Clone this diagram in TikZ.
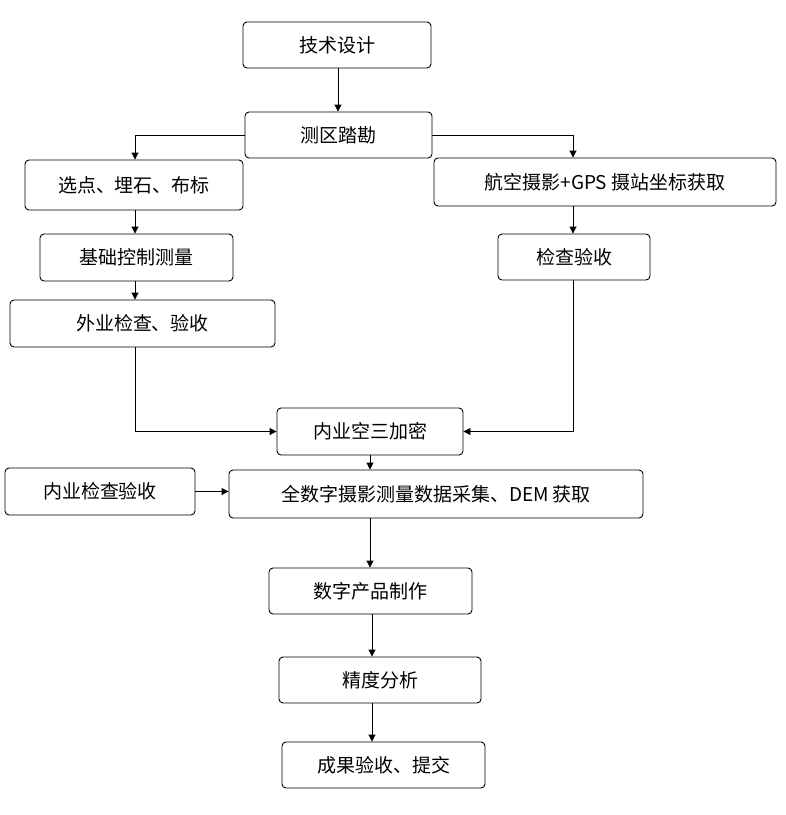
\documentclass[tikz,border=0pt]{standalone}
\usepackage{fontspec}
\setmainfont{Noto Sans CJK SC}
\usetikzlibrary{arrows.meta}
\begin{document}
\begin{tikzpicture}[x=1pt,y=-1pt,
  box/.style={draw,line width=0.9pt,rounded corners=4pt,font=\fontsize{19}{22}\selectfont,inner sep=0pt},
  arr/.style={line width=0.9pt,-{Triangle[length=7pt,width=7pt]}}]
\useasboundingbox (0,0) rectangle (786,815);
\newcommand{\bx}[6]{\node[box,minimum width=#4-#2,minimum height=#5-#3] (#1) at ({(#2+#4)/2},{(#3+#5)/2}) {#6};}
\bx{a}{243}{22}{431}{68}{技术设计}
\bx{b}{245}{112}{432}{158}{测区踏勘}
\bx{c}{25}{160}{243}{210}{选点、埋石、布标}
\bx{d}{434}{158}{776}{206}{航空摄影+GPS 摄站坐标获取}
\bx{e}{40}{234}{233}{281}{基础控制测量}
\bx{f}{498}{234}{650}{280}{检查验收}
\bx{g}{10}{300}{275}{347}{外业检查、验收}
\bx{h}{277}{408}{463}{455}{内业空三加密}
\bx{i}{5}{468}{195}{515}{内业检查验收}
\bx{j}{229}{470}{643}{518}{全数字摄影测量数据采集、DEM 获取}
\bx{k}{269}{568}{472}{614}{数字产品制作}
\bx{l}{279}{657}{481}{703}{精度分析}
\bx{m}{282}{742}{485}{788}{成果验收、提交}
\draw[arr] (a.south-|338,0) -- (b.north-|338,0);
\draw[arr] (b.west) -| (c.north-|135,0);
\draw[arr] (b.east) -| (d.north-|573,0);
\draw[arr] (c.south-|135,0) -- (e.north-|135,0);
\draw[arr] (e.south-|135,0) -- (g.north-|135,0);
\draw[arr] (d.south-|573,0) -- (f.north-|573,0);
\draw[arr] (g.south-|135,0) |- (h.west);
\draw[arr] (f.south-|573,0) |- (h.east);
\draw[arr] (h.south-|370,0) -- (j.north-|370,0);
\draw[arr] (i.east) -- (j.west|-i.east);
\draw[arr] (j.south-|370,0) -- (k.north-|370,0);
\draw[arr] (k.south-|372,0) -- (l.north-|372,0);
\draw[arr] (l.south-|372,0) -- (m.north-|372,0);
\end{tikzpicture}
\end{document}
